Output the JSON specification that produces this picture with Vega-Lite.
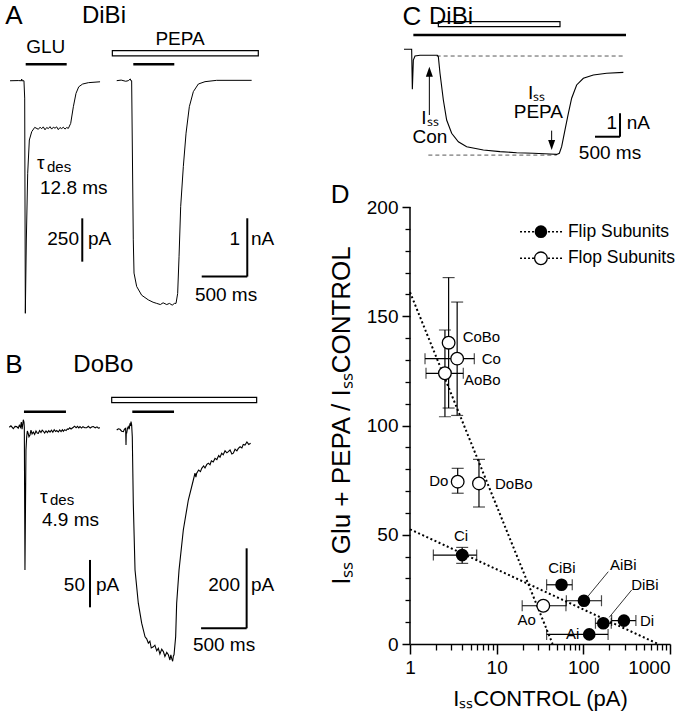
{
"$schema": "https://vega.github.io/schema/vega-lite/v6.json",
"padding": 0,
"background": "white",
"spacing": 0,
"bounds": "flush",
"config": {"view": {"stroke": null}, "font": "Liberation Sans", "text": {"font": "Liberation Sans", "color": "black"}, "concat": {"spacing": 0}},
"datasets": {
"aGlu": [{"t":110,"i":0},{"t":200,"i":1},{"t":236,"i":0},{"t":238,"i":10},{"t":241,"i":0},{"t":263,"i":0},{"t":271,"i":-100},{"t":278,"i":-1342},{"t":289,"i":-919},{"t":304,"i":-534},{"t":322,"i":-342},{"t":348,"i":-294},{"t":381,"i":-269},{"t":421,"i":-280},{"t":440,"i":-268},{"t":457,"i":-277},{"t":475,"i":-266},{"t":494,"i":-283},{"t":512,"i":-270},{"t":531,"i":-276},{"t":549,"i":-265},{"t":567,"i":-279},{"t":585,"i":-268},{"t":604,"i":-274},{"t":622,"i":-266},{"t":640,"i":-282},{"t":658,"i":-270},{"t":677,"i":-276},{"t":695,"i":-268},{"t":713,"i":-279},{"t":732,"i":-270},{"t":750,"i":-275},{"t":776,"i":-246},{"t":805,"i":-150},{"t":834,"i":-73},{"t":864,"i":-35},{"t":907,"i":-19},{"t":970,"i":-11},{"t":1098,"i":-6}],
"aPepa": [{"t":1281,"i":0},{"t":1330,"i":0.01},{"t":1380,"i":-0.01},{"t":1408,"i":0},{"t":1430,"i":0.03},{"t":1436,"i":0},{"t":1445,"i":0},{"t":1463,"i":-2.73},{"t":1471,"i":-3.30},{"t":1500,"i":-3.53},{"t":1555,"i":-3.68},{"t":1628,"i":-3.76},{"t":1680,"i":-3.80},{"t":1720,"i":-3.82},{"t":1760,"i":-3.84},{"t":1790,"i":-3.81},{"t":1830,"i":-3.84},{"t":1860,"i":-3.82},{"t":1890,"i":-3.85},{"t":1915,"i":-3.82},{"t":1932,"i":-3.82},{"t":1950,"i":-3.65},{"t":1965,"i":-3.02},{"t":1983,"i":-2.16},{"t":2012,"i":-1.475},{"t":2042,"i":-0.90},{"t":2078,"i":-0.446},{"t":2122,"i":-0.188},{"t":2177,"i":-0.057},{"t":2250,"i":-0.017},{"t":2378,"i":0.006},{"t":2762,"i":0.006}],
"bGlu": [{"t":102,"i":0},{"t":120,"i":1.5},{"t":146,"i":-1.5},{"t":165,"i":1},{"t":183,"i":0.7},{"t":200,"i":-1},{"t":212,"i":2.1},{"t":225,"i":0},{"t":234,"i":5.6},{"t":242,"i":-2},{"t":249,"i":2.8},{"t":256,"i":8},{"t":263,"i":5.6},{"t":267,"i":0},{"t":274,"i":-150.7},{"t":285,"i":-24},{"t":293,"i":-9.9},{"t":300,"i":-4},{"t":307,"i":-5.7},{"t":318,"i":-10},{"t":329,"i":-8.1},{"t":340,"i":-3},{"t":352,"i":-7},{"t":366,"i":-5},{"t":380,"i":-7.5},{"t":395,"i":-4},{"t":408,"i":-6},{"t":421,"i":-6.3},{"t":435,"i":-3.5},{"t":450,"i":-5.5},{"t":463,"i":-3},{"t":476,"i":-4.2},{"t":490,"i":-6},{"t":505,"i":-3.8},{"t":520,"i":-5.5},{"t":535,"i":-3.5},{"t":549,"i":-5},{"t":565,"i":-3},{"t":580,"i":-5.2},{"t":595,"i":-2.6},{"t":610,"i":-4.5},{"t":622,"i":-3.5},{"t":640,"i":-5},{"t":655,"i":-2.8},{"t":670,"i":-4.5},{"t":685,"i":-2.5},{"t":695,"i":-4.2},{"t":710,"i":-2.5},{"t":725,"i":-3.5},{"t":740,"i":-1.8},{"t":750,"i":-2.1},{"t":765,"i":-0.5},{"t":780,"i":-1.8},{"t":805,"i":0},{"t":820,"i":1.2},{"t":835,"i":-0.5},{"t":850,"i":1},{"t":865,"i":-0.6},{"t":878,"i":0.7},{"t":895,"i":-0.8},{"t":910,"i":0.6},{"t":930,"i":-0.5},{"t":951,"i":-0.4},{"t":970,"i":1},{"t":990,"i":-0.8},{"t":1010,"i":0.5},{"t":1025,"i":0.7},{"t":1045,"i":-0.6},{"t":1065,"i":0.5},{"t":1080,"i":-0.8},{"t":1098,"i":-0.4}],
"bPepa": [{"t":1281,"i":0},{"t":1299,"i":3},{"t":1317,"i":1.7},{"t":1335,"i":-3},{"t":1354,"i":-4.2},{"t":1366,"i":2},{"t":1379,"i":4.2},{"t":1383,"i":-37.5},{"t":1386,"i":-5},{"t":1390,"i":-8.3},{"t":1399,"i":4},{"t":1408,"i":8.3},{"t":1418,"i":2},{"t":1427,"i":16.7},{"t":1433,"i":10},{"t":1438,"i":20.8},{"t":1445,"i":12.5},{"t":1452,"i":-16.7},{"t":1463,"i":-183},{"t":1482,"i":-350},{"t":1518,"i":-433},{"t":1555,"i":-483},{"t":1592,"i":-517},{"t":1610,"i":-522},{"t":1628,"i":-533},{"t":1645,"i":-528},{"t":1660,"i":-545},{"t":1683,"i":-542},{"t":1700,"i":-538},{"t":1720,"i":-552},{"t":1738,"i":-546},{"t":1755,"i":-560},{"t":1775,"i":-548},{"t":1793,"i":-554},{"t":1810,"i":-566},{"t":1830,"i":-556},{"t":1848,"i":-562},{"t":1865,"i":-575},{"t":1875,"i":-562},{"t":1884,"i":-571},{"t":1895,"i":-578},{"t":1903,"i":-565},{"t":1910,"i":-562},{"t":1928,"i":-517},{"t":1939,"i":-433},{"t":1965,"i":-350},{"t":2012,"i":-250},{"t":2067,"i":-175},{"t":2122,"i":-125},{"t":2140,"i":-108},{"t":2150,"i":-118},{"t":2159,"i":-108},{"t":2180,"i":-100},{"t":2200,"i":-104},{"t":2214,"i":-96},{"t":2235,"i":-90},{"t":2250,"i":-95},{"t":2270,"i":-86},{"t":2287,"i":-83},{"t":2305,"i":-87},{"t":2320,"i":-77},{"t":2340,"i":-80},{"t":2360,"i":-71},{"t":2380,"i":-74},{"t":2400,"i":-64},{"t":2415,"i":-68},{"t":2433,"i":-58},{"t":2450,"i":-62},{"t":2470,"i":-52},{"t":2490,"i":-57},{"t":2506,"i":-54},{"t":2525,"i":-50},{"t":2545,"i":-60},{"t":2561,"i":-58},{"t":2580,"i":-48},{"t":2600,"i":-52},{"t":2616,"i":-46},{"t":2635,"i":-42},{"t":2655,"i":-45},{"t":2670,"i":-36},{"t":2689,"i":-37.5},{"t":2710,"i":-30},{"t":2730,"i":-36},{"t":2751,"i":-33}],
"cTrace": [{"t":80,"i":0},{"t":233,"i":0},{"t":247,"i":-1.717},{"t":267,"i":-0.459},{"t":300,"i":-0.288},{"t":400,"i":-0.258},{"t":747,"i":-0.258},{"t":767,"i":-0.316},{"t":800,"i":-1.03},{"t":867,"i":-2.176},{"t":933,"i":-3.034},{"t":1033,"i":-3.605},{"t":1167,"i":-3.966},{"t":1333,"i":-4.18},{"t":1667,"i":-4.32},{"t":2000,"i":-4.39},{"t":2333,"i":-4.44},{"t":2667,"i":-4.46},{"t":3000,"i":-4.49},{"t":3133,"i":-4.51},{"t":3187,"i":-4.46},{"t":3233,"i":-4.18},{"t":3300,"i":-3.46},{"t":3367,"i":-2.75},{"t":3433,"i":-2.10},{"t":3533,"i":-1.53},{"t":3667,"i":-1.245},{"t":3867,"i":-1.10},{"t":4133,"i":-1.03},{"t":4467,"i":-0.99}],
"dPts": [
{"name":"Ci","type":"flip","x":4.0,"y":40.7,"xlo":1.86,"xhi":5.88,"ylo":36.9,"yhi":44.2},
{"name":"CiBi","type":"flip","x":56,"y":27.1,"xlo":37.7,"xhi":74.5,"ylo":null,"yhi":null},
{"name":"AiBi","type":"flip","x":101.6,"y":19.8,"xlo":63.7,"xhi":162,"ylo":null,"yhi":null},
{"name":"DiBi","type":"flip","x":170,"y":9.5,"xlo":138,"xhi":210,"ylo":null,"yhi":null},
{"name":"Di","type":"flip","x":294,"y":10.7,"xlo":212,"xhi":404,"ylo":null,"yhi":null},
{"name":"Ai","type":"flip","x":117,"y":4.4,"xlo":37.7,"xhi":193,"ylo":null,"yhi":null},
{"name":"CoBo","type":"flop","x":2.79,"y":137.9,"xlo":null,"xhi":null,"ylo":108,"yhi":167.7},
{"name":"Co","type":"flop","x":3.5,"y":130.6,"xlo":1.49,"xhi":5.52,"ylo":104.6,"yhi":156.5},
{"name":"AoBo","type":"flop","x":2.53,"y":123.9,"xlo":1.53,"xhi":4.12,"ylo":104,"yhi":143.7},
{"name":"Do","type":"flop","x":3.55,"y":74.3,"xlo":null,"xhi":null,"ylo":69,"yhi":80.4},
{"name":"DoBo","type":"flop","x":6.25,"y":73.5,"xlo":null,"xhi":null,"ylo":62.7,"yhi":84.5},
{"name":"Ao","type":"flop","x":34.5,"y":17.5,"xlo":19.7,"xhi":63,"ylo":null,"yhi":null}
]
},
"hconcat": [
{"width": 410, "height": 720,
 "resolve": {"scale": {"y": "independent"}},
 "layer": [
  {"layer": [
   {"data": {"name": "aGlu"}, "mark": {"type": "line", "color": "black", "strokeWidth": 1}, "encoding": {"x": {"field":"t","type":"quantitative","scale":{"domain":[0,4500],"nice":false,"zero":false},"axis":null}, "y": {"field":"i","type":"quantitative","scale":{"domain":[-3689,466],"nice":false,"zero":false},"axis":null}}},
   {"data": {"values": [{"t":282,"t2":732,"i":95}]}, "mark": {"type": "rule", "color": "black", "strokeWidth": 2.5}, "encoding": {"x": {"field":"t","type":"quantitative"}, "x2": {"field":"t2"}, "y": {"field":"i","type":"quantitative"}}},
   {"data": {"values": [{"t":903,"i":-794,"i2":-1044}]}, "mark": {"type": "rule", "color": "black", "strokeWidth": 2}, "encoding": {"x": {"field":"t","type":"quantitative"}, "y": {"field":"i","type":"quantitative"}, "y2": {"field":"i2"}}},
   {"data": {"values": [{"t":154,"i":374,"label":"A"}]}, "mark": {"type": "text", "fontSize": 26, "align": "center", "baseline": "middle"}, "encoding": {"x": {"field":"t","type":"quantitative"}, "y": {"field":"i","type":"quantitative"}, "text": {"field":"label"}}},
   {"data": {"values": [{"t":1141,"i":374,"label":"DiBi"}]}, "mark": {"type": "text", "fontSize": 24, "align": "center", "baseline": "middle"}, "encoding": {"x": {"field":"t","type":"quantitative"}, "y": {"field":"i","type":"quantitative"}, "text": {"field":"label"}}},
   {"data": {"values": [{"t":502,"i":196,"label":"GLU"}]}, "mark": {"type": "text", "fontSize": 19, "align": "center", "baseline": "middle"}, "encoding": {"x": {"field":"t","type":"quantitative"}, "y": {"field":"i","type":"quantitative"}, "text": {"field":"label"}}},
   {"data": {"values": [{"t":406,"i":-475,"label":"τ"},{"t":439,"i":-619,"label":"12.8 ms"},{"t":966,"i":-912,"label":"pA"}]}, "mark": {"type": "text", "fontSize": 19, "align": "left", "baseline": "middle"}, "encoding": {"x": {"field":"t","type":"quantitative"}, "y": {"field":"i","type":"quantitative"}, "text": {"field":"label"}}},
   {"data": {"values": [{"t":516,"i":-498,"label":"des"}]}, "mark": {"type": "text", "fontSize": 15, "align": "left", "baseline": "middle"}, "encoding": {"x": {"field":"t","type":"quantitative"}, "y": {"field":"i","type":"quantitative"}, "text": {"field":"label"}}},
   {"data": {"values": [{"t":867,"i":-912,"label":"250"}]}, "mark": {"type": "text", "fontSize": 19, "align": "right", "baseline": "middle"}, "encoding": {"x": {"field":"t","type":"quantitative"}, "y": {"field":"i","type":"quantitative"}, "text": {"field":"label"}}}
  ]},
  {"layer": [
   {"data": {"name": "aPepa"}, "mark": {"type": "line", "color": "black", "strokeWidth": 1}, "encoding": {"x": {"field":"t","type":"quantitative","scale":{"domain":[0,4500],"nice":false,"zero":false},"axis":null}, "y": {"field":"i","type":"quantitative","scale":{"domain":[-10.966,1.384],"nice":false,"zero":false},"axis":null}}},
   {"data": {"values": [{"t":1463,"t2":1913,"i":0.281}]}, "mark": {"type": "rule", "color": "black", "strokeWidth": 2.5}, "encoding": {"x": {"field":"t","type":"quantitative"}, "x2": {"field":"t2"}, "y": {"field":"i","type":"quantitative"}}},
   {"data": {"values": [{"t":1233,"t2":2835,"i":0.424,"i2":0.515}]}, "mark": {"type": "rect", "fill": "white", "stroke": "black", "strokeWidth": 1.2}, "encoding": {"x": {"field":"t","type":"quantitative"}, "x2": {"field":"t2"}, "y": {"field":"i","type":"quantitative"}, "y2": {"field":"i2"}}},
   {"data": {"values": [{"t":2714,"i":-2.36,"i2":-3.36}]}, "mark": {"type": "rule", "color": "black", "strokeWidth": 2}, "encoding": {"x": {"field":"t","type":"quantitative"}, "y": {"field":"i","type":"quantitative"}, "y2": {"field":"i2"}}},
   {"data": {"values": [{"t":2214,"t2":2714,"i":-3.36}]}, "mark": {"type": "rule", "color": "black", "strokeWidth": 2}, "encoding": {"x": {"field":"t","type":"quantitative"}, "x2": {"field":"t2"}, "y": {"field":"i","type":"quantitative"}}},
   {"data": {"values": [{"t":1976,"i":0.71,"label":"PEPA"},{"t":2481,"i":-3.676,"label":"500 ms"}]}, "mark": {"type": "text", "fontSize": 19, "align": "center", "baseline": "middle"}, "encoding": {"x": {"field":"t","type":"quantitative"}, "y": {"field":"i","type":"quantitative"}, "text": {"field":"label"}}},
   {"data": {"values": [{"t":2634,"i":-2.71,"label":"1"}]}, "mark": {"type": "text", "fontSize": 19, "align": "right", "baseline": "middle"}, "encoding": {"x": {"field":"t","type":"quantitative"}, "y": {"field":"i","type":"quantitative"}, "text": {"field":"label"}}},
   {"data": {"values": [{"t":2755,"i":-2.71,"label":"nA"}]}, "mark": {"type": "text", "fontSize": 19, "align": "left", "baseline": "middle"}, "encoding": {"x": {"field":"t","type":"quantitative"}, "y": {"field":"i","type":"quantitative"}, "text": {"field":"label"}}}
  ]},
  {"layer": [
   {"data": {"name": "bGlu"}, "mark": {"type": "line", "color": "black", "strokeWidth": 1.1}, "encoding": {"x": {"field":"t","type":"quantitative","scale":{"domain":[0,4500],"nice":false,"zero":false},"axis":null}, "y": {"field":"i","type":"quantitative","scale":{"domain":[-309.1,451.2],"nice":false,"zero":false},"axis":null}}},
   {"data": {"values": [{"t":263,"t2":724,"i":16.5}]}, "mark": {"type": "rule", "color": "black", "strokeWidth": 2.5}, "encoding": {"x": {"field":"t","type":"quantitative"}, "x2": {"field":"t2"}, "y": {"field":"i","type":"quantitative"}}},
   {"data": {"values": [{"t":988,"i":-140.1,"i2":-190.1}]}, "mark": {"type": "rule", "color": "black", "strokeWidth": 2}, "encoding": {"x": {"field":"t","type":"quantitative"}, "y": {"field":"i","type":"quantitative"}, "y2": {"field":"i2"}}},
   {"data": {"values": [{"t":154,"i":65.8,"label":"B"}]}, "mark": {"type": "text", "fontSize": 26, "align": "center", "baseline": "middle"}, "encoding": {"x": {"field":"t","type":"quantitative"}, "y": {"field":"i","type":"quantitative"}, "text": {"field":"label"}}},
   {"data": {"values": [{"t":1134,"i":65.8,"label":"DoBo"}]}, "mark": {"type": "text", "fontSize": 24, "align": "center", "baseline": "middle"}, "encoding": {"x": {"field":"t","type":"quantitative"}, "y": {"field":"i","type":"quantitative"}, "text": {"field":"label"}}},
   {"data": {"values": [{"t":439,"i":-73.6,"label":"τ"},{"t":461,"i":-97.9,"label":"4.9 ms"},{"t":1054,"i":-166.5,"label":"pA"}]}, "mark": {"type": "text", "fontSize": 19, "align": "left", "baseline": "middle"}, "encoding": {"x": {"field":"t","type":"quantitative"}, "y": {"field":"i","type":"quantitative"}, "text": {"field":"label"}}},
   {"data": {"values": [{"t":549,"i":-76.8,"label":"des"}]}, "mark": {"type": "text", "fontSize": 15, "align": "left", "baseline": "middle"}, "encoding": {"x": {"field":"t","type":"quantitative"}, "y": {"field":"i","type":"quantitative"}, "text": {"field":"label"}}},
   {"data": {"values": [{"t":933,"i":-166.5,"label":"50"}]}, "mark": {"type": "text", "fontSize": 19, "align": "right", "baseline": "middle"}, "encoding": {"x": {"field":"t","type":"quantitative"}, "y": {"field":"i","type":"quantitative"}, "text": {"field":"label"}}}
  ]},
  {"layer": [
   {"data": {"name": "bPepa"}, "mark": {"type": "line", "color": "black", "strokeWidth": 1.1}, "encoding": {"x": {"field":"t","type":"quantitative","scale":{"domain":[0,4500],"nice":false,"zero":false},"axis":null}, "y": {"field":"i","type":"quantitative","scale":{"domain":[-725,1075],"nice":false,"zero":false},"axis":null}}},
   {"data": {"values": [{"t":1452,"t2":1910,"i":45.8}]}, "mark": {"type": "rule", "color": "black", "strokeWidth": 2.5}, "encoding": {"x": {"field":"t","type":"quantitative"}, "x2": {"field":"t2"}, "y": {"field":"i","type":"quantitative"}}},
   {"data": {"values": [{"t":1226,"t2":2817,"i":68.3,"i2":81.7}]}, "mark": {"type": "rect", "fill": "white", "stroke": "black", "strokeWidth": 1.2}, "encoding": {"x": {"field":"t","type":"quantitative"}, "x2": {"field":"t2"}, "y": {"field":"i","type":"quantitative"}, "y2": {"field":"i2"}}},
   {"data": {"values": [{"t":2707,"i":-295.8,"i2":-495.8}]}, "mark": {"type": "rule", "color": "black", "strokeWidth": 2}, "encoding": {"x": {"field":"t","type":"quantitative"}, "y": {"field":"i","type":"quantitative"}, "y2": {"field":"i2"}}},
   {"data": {"values": [{"t":2207,"t2":2707,"i":-495.8}]}, "mark": {"type": "rule", "color": "black", "strokeWidth": 2}, "encoding": {"x": {"field":"t","type":"quantitative"}, "x2": {"field":"t2"}, "y": {"field":"i","type":"quantitative"}}},
   {"data": {"values": [{"t":2459,"i":-537.5,"label":"500 ms"}]}, "mark": {"type": "text", "fontSize": 19, "align": "center", "baseline": "middle"}, "encoding": {"x": {"field":"t","type":"quantitative"}, "y": {"field":"i","type":"quantitative"}, "text": {"field":"label"}}},
   {"data": {"values": [{"t":2634,"i":-387.5,"label":"200"}]}, "mark": {"type": "text", "fontSize": 19, "align": "right", "baseline": "middle"}, "encoding": {"x": {"field":"t","type":"quantitative"}, "y": {"field":"i","type":"quantitative"}, "text": {"field":"label"}}},
   {"data": {"values": [{"t":2755,"i":-387.5,"label":"pA"}]}, "mark": {"type": "text", "fontSize": 19, "align": "left", "baseline": "middle"}, "encoding": {"x": {"field":"t","type":"quantitative"}, "y": {"field":"i","type":"quantitative"}, "text": {"field":"label"}}}
  ]}
 ]},
{"width": 260, "height": 644,
 "resolve": {"scale": {"x": "independent", "y": "independent"}, "axis": {"x": "independent", "y": "independent"}},
 "layer": [
 {"encoding": {"x": {"field":"t","type":"quantitative","scale":{"domain":[200,5400],"nice":false,"zero":false},"axis":null}, "y": {"field":"i","type":"quantitative","scale":{"domain":[-25.52,2.116],"nice":false,"zero":false},"axis":null}},
  "layer": [
  {"data": {"values": [{"t":733,"t2":4467,"i":-0.288},{"t":567,"t2":3133,"i":-4.54}]}, "mark": {"type": "rule", "color": "#444", "strokeWidth": 0.9, "strokeDash": [4,3]}, "encoding": {"x2": {"field":"t2"}}},
  {"data": {"name": "cTrace"}, "mark": {"type": "line", "color": "black", "strokeWidth": 1.1}},
  {"data": {"values": [{"t":267,"t2":4520,"i":0.614}]}, "mark": {"type": "rule", "color": "black", "strokeWidth": 2.5}, "encoding": {"x2": {"field":"t2"}}},
  {"data": {"values": [{"t":767,"t2":3200,"i":0.970,"i2":1.185}]}, "mark": {"type": "rect", "fill": "white", "stroke": "black", "strokeWidth": 1.2}, "encoding": {"x2": {"field":"t2"}, "y2": {"field":"i2"}}},
  {"data": {"values": [{"t":587,"i":-2.82,"i2":-0.961},{"t":3033,"i":-3.49,"i2":-4.107}]}, "mark": {"type": "rule", "color": "black", "strokeWidth": 1}, "encoding": {"y2": {"field":"i2"}}},
  {"data": {"values": [{"t":587,"i":-0.961}]}, "mark": {"type": "point", "shape": "M0,-1L0.7,1L-0.7,1Z", "size": 100, "filled": true, "color": "black", "opacity": 1}},
  {"data": {"values": [{"t":3033,"i":-4.107}]}, "mark": {"type": "point", "shape": "M0,1L0.7,-1L-0.7,-1Z", "size": 100, "filled": true, "color": "black", "opacity": 1}},
  {"data": {"values": [{"t":4400,"i":-2.747,"i2":-3.751}]}, "mark": {"type": "rule", "color": "black", "strokeWidth": 2}, "encoding": {"y2": {"field":"i2"}}},
  {"data": {"values": [{"t":3900,"t2":4400,"i":-3.751}]}, "mark": {"type": "rule", "color": "black", "strokeWidth": 2}, "encoding": {"x2": {"field":"t2"}}},
  {"data": {"values": [{"t":600,"i":-2.961,"label":"Iₛₛ"},{"t":600,"i":-3.751,"label":"Con"},{"t":2733,"i":-1.888,"label":"Iₛₛ"},{"t":2767,"i":-2.678,"label":"PEPA"},{"t":4200,"i":-4.464,"label":"500 ms"}]}, "mark": {"type": "text", "fontSize": 19, "align": "center", "baseline": "middle"}, "encoding": {"text": {"field":"label"}}},
  {"data": {"values": [{"t":4340,"i":-3.176,"label":"1"}]}, "mark": {"type": "text", "fontSize": 19, "align": "right", "baseline": "middle"}, "encoding": {"text": {"field":"label"}}},
  {"data": {"values": [{"t":4533,"i":-3.176,"label":"nA"}]}, "mark": {"type": "text", "fontSize": 19, "align": "left", "baseline": "middle"}, "encoding": {"text": {"field":"label"}}},
  {"data": {"values": [{"t":240,"i":1.40,"label":"C"}]}, "mark": {"type": "text", "fontSize": 26, "align": "center", "baseline": "middle"}, "encoding": {"text": {"field":"label"}}},
  {"data": {"values": [{"t":1020,"i":1.40,"label":"DiBi"}]}, "mark": {"type": "text", "fontSize": 24, "align": "center", "baseline": "middle"}, "encoding": {"text": {"field":"label"}}}
 ]},
 {"resolve": {"axis": {"x": "independent", "y": "independent"}},
  "layer": [
  {"data": {"values": [{"g":"flop","x":1,"y":161},{"g":"flop","x":44.2,"y":0},{"g":"flip","x":1,"y":52.5},{"g":"flip","x":730,"y":0}]},
   "mark": {"type": "line", "color": "black", "strokeWidth": 2, "strokeDash": [2,2.5]},
   "encoding": {
    "x": {"field":"x","type":"quantitative","scale":{"type":"log","domain":[1,1000],"nice":false},
          "axis":{"orient":"bottom","values":[1,10,100,1000],"format":"d","tickSize":10,"tickWidth":1.5,"domainWidth":1.5,"domainColor":"black","tickColor":"black","labelColor":"black","labelFont":"Liberation Sans","labelFontSize":19,"labelPadding":4,"labelFlush":false,"labelOverlap":false,"labelAlign":{"expr":"datum.value >= 1000 ? 'right' : 'center'"},"grid":false,"title":"IₛₛCONTROL  (pA)","titleFont":"Liberation Sans","titleFontSize":22,"titleFontWeight":"normal","titleColor":"black","titlePadding":11}},
    "y": {"field":"y","type":"quantitative","scale":{"domain":[0,294.74],"nice":false,"zero":false},
          "axis":{"orient":"left","values":[0,50,100,150,200],"domain":false,"tickSize":8,"tickWidth":1.5,"tickColor":"black","labelColor":"black","labelFont":"Liberation Sans","labelFontSize":19,"labelPadding":4,"labelFlush":false,"labelOverlap":false,"grid":false,"title":"Iₛₛ Glu + PEPA / IₛₛCONTROL","titleFont":"Liberation Sans","titleFontSize":26,"titleFontWeight":"normal","titleColor":"black","titlePadding":12,"titleY":415}},
    "detail": {"field":"g"}}},
  {"data": {"values": [{"x":1,"y":0,"y2":200}]},
   "mark": {"type": "rule", "color": "black", "strokeWidth": 1.5},
   "encoding": {"x": {"field":"x","type":"quantitative","axis":null}, "y": {"field":"y","type":"quantitative","axis":null}, "y2": {"field":"y2"}}},
  {"data": {"name": "dPts"}, "transform": [{"filter": "isValid(datum.xlo)"}],
   "mark": {"type": "rule", "color": "black", "strokeWidth": 1.2},
   "encoding": {
    "x": {"field":"xlo","type":"quantitative",
          "axis":{"orient":"bottom","values":[2,3,4,5,6,7,8,9,20,30,40,50,60,70,80,90,200,300,400,500,600,700,800,900],"labels":false,"domain":false,"tickSize":6,"tickWidth":1.3,"tickColor":"black","grid":false,"title":null}},
    "x2": {"field":"xhi"},
    "y": {"field":"y","type":"quantitative",
          "axis":{"orient":"left","values":[10,20,30,40,60,70,80,90,110,120,130,140,160,170,180,190],"labels":false,"domain":false,"tickSize":5,"tickWidth":1.3,"tickColor":"black","grid":false,"title":null}}}},
  {"data": {"name": "dPts"}, "transform": [{"filter": "isValid(datum.xlo)"}],
   "mark": {"type": "tick", "orient": "vertical", "size": 11, "thickness": 1.2, "color": "black"},
   "encoding": {"x": {"field":"xlo","type":"quantitative","axis":null}, "y": {"field":"y","type":"quantitative","axis":null}}},
  {"data": {"name": "dPts"}, "transform": [{"filter": "isValid(datum.xhi)"}],
   "mark": {"type": "tick", "orient": "vertical", "size": 11, "thickness": 1.2, "color": "black"},
   "encoding": {"x": {"field":"xhi","type":"quantitative","axis":null}, "y": {"field":"y","type":"quantitative","axis":null}}},
  {"data": {"name": "dPts"}, "transform": [{"filter": "isValid(datum.ylo)"}],
   "mark": {"type": "rule", "color": "black", "strokeWidth": 1.2},
   "encoding": {"x": {"field":"x","type":"quantitative","axis":null}, "y": {"field":"ylo","type":"quantitative","axis":null}, "y2": {"field":"yhi"}}},
  {"data": {"name": "dPts"}, "transform": [{"filter": "isValid(datum.ylo)"}],
   "mark": {"type": "tick", "orient": "horizontal", "size": 12, "thickness": 1.2, "color": "black"},
   "encoding": {"x": {"field":"x","type":"quantitative","axis":null}, "y": {"field":"ylo","type":"quantitative","axis":null}}},
  {"data": {"name": "dPts"}, "transform": [{"filter": "isValid(datum.yhi)"}],
   "mark": {"type": "tick", "orient": "horizontal", "size": 12, "thickness": 1.2, "color": "black"},
   "encoding": {"x": {"field":"x","type":"quantitative","axis":null}, "y": {"field":"yhi","type":"quantitative","axis":null}}},
  {"data": {"name": "dPts"}, "transform": [{"filter": "datum.type == 'flip'"}],
   "mark": {"type": "point", "shape": "circle", "size": 160, "filled": true, "color": "black", "opacity": 1},
   "encoding": {"x": {"field":"x","type":"quantitative","axis":null}, "y": {"field":"y","type":"quantitative","axis":null}}},
  {"data": {"name": "dPts"}, "transform": [{"filter": "datum.type == 'flop'"}],
   "mark": {"type": "point", "shape": "circle", "size": 160, "fill": "white", "stroke": "black", "strokeWidth": 1.3, "opacity": 1, "fillOpacity": 1},
   "encoding": {"x": {"field":"x","type":"quantitative","axis":null}, "y": {"field":"y","type":"quantitative","axis":null}}},
  {"data": {"values": [{"x":194,"y":33.1,"x2":114,"y2":22.0},{"x":361,"y":24.7,"x2":199,"y2":12.2}]},
   "mark": {"type": "rule", "color": "black", "strokeWidth": 0.8},
   "encoding": {"x": {"field":"x","type":"quantitative","axis":null}, "y": {"field":"y","type":"quantitative","axis":null}, "x2": {"field":"x2"}, "y2": {"field":"y2"}}},
  {"data": {"values": [{"x":4.05,"y":140.6,"label":"CoBo"},{"x":6.71,"y":130.3,"label":"Co"},{"x":4.2,"y":120.8,"label":"AoBo"},{"x":9.56,"y":73.1,"label":"DoBo"},{"x":450,"y":10.7,"label":"Di"}]},
   "mark": {"type": "text", "fontSize": 15, "align": "left", "baseline": "middle"},
   "encoding": {"x": {"field":"x","type":"quantitative","axis":null}, "y": {"field":"y","type":"quantitative","axis":null}, "text": {"field":"label"}}},
  {"data": {"values": [{"x":2.77,"y":74.6,"label":"Do"}]},
   "mark": {"type": "text", "fontSize": 15, "align": "right", "baseline": "middle"},
   "encoding": {"x": {"field":"x","type":"quantitative","axis":null}, "y": {"field":"y","type":"quantitative","axis":null}, "text": {"field":"label"}}},
  {"data": {"values": [{"x":3.88,"y":49.6,"label":"Ci"},{"x":56.6,"y":34.9,"label":"CiBi"},{"x":289,"y":36.2,"label":"AiBi"},{"x":514,"y":27.0,"label":"DiBi"},{"x":75.3,"y":4.4,"label":"Ai"},{"x":22.2,"y":11.0,"label":"Ao"}]},
   "mark": {"type": "text", "fontSize": 15, "align": "center", "baseline": "middle"},
   "encoding": {"x": {"field":"x","type":"quantitative","axis":null}, "y": {"field":"y","type":"quantitative","axis":null}, "text": {"field":"label"}}},
  {"data": {"values": [{"g":"flip","x":18.6,"y":188.7},{"g":"flip","x":58.6,"y":188.7},{"g":"flop","x":18.6,"y":176.5},{"g":"flop","x":58.6,"y":176.5}]},
   "mark": {"type": "line", "color": "black", "strokeWidth": 1.5, "strokeDash": [2,2]},
   "encoding": {"x": {"field":"x","type":"quantitative","axis":null}, "y": {"field":"y","type":"quantitative","axis":null}, "detail": {"field":"g"}}},
  {"data": {"values": [{"x":32.4,"y":188.7}]},
   "mark": {"type": "point", "shape": "circle", "size": 160, "filled": true, "color": "black", "opacity": 1},
   "encoding": {"x": {"field":"x","type":"quantitative","axis":null}, "y": {"field":"y","type":"quantitative","axis":null}}},
  {"data": {"values": [{"x":32.4,"y":176.5}]},
   "mark": {"type": "point", "shape": "circle", "size": 160, "fill": "white", "stroke": "black", "strokeWidth": 1.3, "opacity": 1, "fillOpacity": 1},
   "encoding": {"x": {"field":"x","type":"quantitative","axis":null}, "y": {"field":"y","type":"quantitative","axis":null}}},
  {"data": {"values": [{"x":66.4,"y":188.7,"label":"Flip Subunits"},{"x":66.4,"y":176.5,"label":"Flop Subunits"}]},
   "mark": {"type": "text", "fontSize": 17.5, "align": "left", "baseline": "middle"},
   "encoding": {"x": {"field":"x","type":"quantitative","axis":null}, "y": {"field":"y","type":"quantitative","axis":null}, "text": {"field":"label"}}},
  {"data": {"values": [{"x":0.156,"y":205.5,"label":"D"}]},
   "mark": {"type": "text", "fontSize": 26, "align": "center", "baseline": "middle"},
   "encoding": {"x": {"field":"x","type":"quantitative","axis":null}, "y": {"field":"y","type":"quantitative","axis":null}, "text": {"field":"label"}}}
 ]}
 ]}
]
}
